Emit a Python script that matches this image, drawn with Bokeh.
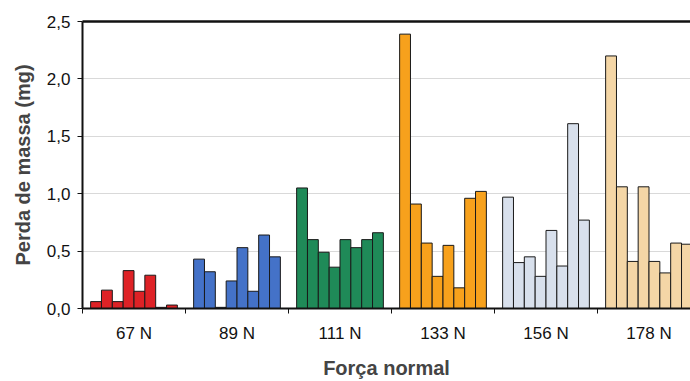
from bokeh.plotting import figure
from bokeh.models import ColumnDataSource, FixedTicker, LinearAxis, Range1d
from bokeh.embed import file_html
from bokeh.resources import INLINE

# Normal load groups and the eight measured mass losses (mg) in each
forces = ["67 N", "89 N", "111 N", "133 N", "156 N", "178 N"]
loss_67 = [0.06, 0.16, 0.06, 0.33, 0.15, 0.29, 0.01, 0.03]
loss_89 = [0.43, 0.32, 0.01, 0.24, 0.53, 0.15, 0.64, 0.45]
loss_111 = [1.05, 0.60, 0.49, 0.36, 0.60, 0.53, 0.60, 0.66]
loss_133 = [2.39, 0.91, 0.57, 0.28, 0.55, 0.18, 0.96, 1.02]
loss_156 = [0.97, 0.40, 0.45, 0.28, 0.68, 0.37, 1.61, 0.77]
loss_178 = [2.20, 1.06, 0.41, 1.06, 0.41, 0.31, 0.57, 0.56]
group_colors = ["#de2226", "#4472c8", "#1f8a58", "#f7a11c", "#d8e0ec", "#f4d6a6"]
y_ticks = [0.0, 0.5, 1.0, 1.5, 2.0, 2.5]

groups = [loss_67, loss_89, loss_111, loss_133, loss_156, loss_178]
bar_w = 1 / 9.5  # eight bars plus a 1.5-bar gap per category

xs, tops, cols = [], [], []
for g, vals in enumerate(groups):
    n = len(vals)
    for j, v in enumerate(vals):
        xs.append(g + 0.5 + (j - (n - 1) / 2) * bar_w)
        tops.append(v)
        cols.append(group_colors[g])
src = ColumnDataSource(dict(x=xs, top=tops, color=cols))

p = figure(width=690, height=381, output_backend="svg", toolbar_location=None,
           x_range=Range1d(0, 608 / 103), y_range=Range1d(0, 2.5),
           min_border_left=82, min_border_right=0, min_border_top=21,
           min_border_bottom=70, x_axis_location="below")
p.outline_line_color = None
p.background_fill_color = "white"
p.border_fill_color = "white"

p.vbar(x="x", top="top", width=bar_w, fill_color="color", line_color="#1a1a1a",
       line_width=1, source=src)

# y axis
p.yaxis.ticker = FixedTicker(ticks=y_ticks)
p.yaxis.major_label_overrides = {t: f"{t:.1f}".replace(".", ",") for t in y_ticks}
p.yaxis.axis_label = "Perda de massa (mg)"
p.yaxis.axis_label_text_font = "Liberation Sans"
p.yaxis.axis_label_text_font_style = "bold"
p.yaxis.axis_label_text_font_size = "20px"
p.yaxis.axis_label_standoff = 10
p.yaxis.major_label_text_font = "Liberation Sans"
p.yaxis.major_label_text_font_size = "17px"
p.yaxis.major_label_text_color = "#111111"
p.yaxis.axis_line_width = 2
p.yaxis.axis_line_color = "#111111"
p.yaxis.major_tick_out = 5
p.yaxis.major_tick_in = 0
p.yaxis.major_tick_line_color = "#111111"
p.yaxis.minor_tick_line_color = None
p.yaxis.major_label_standoff = 7

# x axis: labels at category centers, marks at category boundaries
centers = [i + 0.5 for i in range(len(forces))]
bounds = list(range(len(forces) + 1))
p.xaxis.ticker = FixedTicker(ticks=centers, minor_ticks=bounds)
p.xaxis.major_label_overrides = {c: f for c, f in zip(centers, forces)}
p.xaxis.major_tick_line_color = None
p.xaxis.major_tick_out = 5
p.xaxis.major_tick_in = 0
p.xaxis.minor_tick_out = 5
p.xaxis.minor_tick_in = 0
p.xaxis.minor_tick_line_color = "#111111"
p.xaxis.axis_line_width = 2
p.xaxis.axis_line_color = "#111111"
p.xaxis.major_label_text_font = "Liberation Sans"
p.xaxis.major_label_text_font_size = "17px"
p.xaxis.major_label_text_color = "#111111"
p.xaxis.major_label_standoff = 10
p.xaxis.axis_label = "Força normal"
p.xaxis.axis_label_text_font = "Liberation Sans"
p.xaxis.axis_label_text_font_style = "bold"
p.xaxis.axis_label_text_font_size = "20px"
p.xaxis.axis_label_standoff = 11

# top border line
top_axis = LinearAxis(ticker=FixedTicker(ticks=[]), axis_line_width=2.5,
                      axis_line_color="#111111", major_tick_line_color=None,
                      minor_tick_line_color=None, major_label_text_font_size="0px")
p.add_layout(top_axis, "above")

p.xgrid.grid_line_color = None
p.ygrid.ticker = FixedTicker(ticks=y_ticks)
p.ygrid.grid_line_color = "#d9d9d9"
p.ygrid.grid_line_width = 1

open("out.html", "w").write(file_html(p, INLINE))
